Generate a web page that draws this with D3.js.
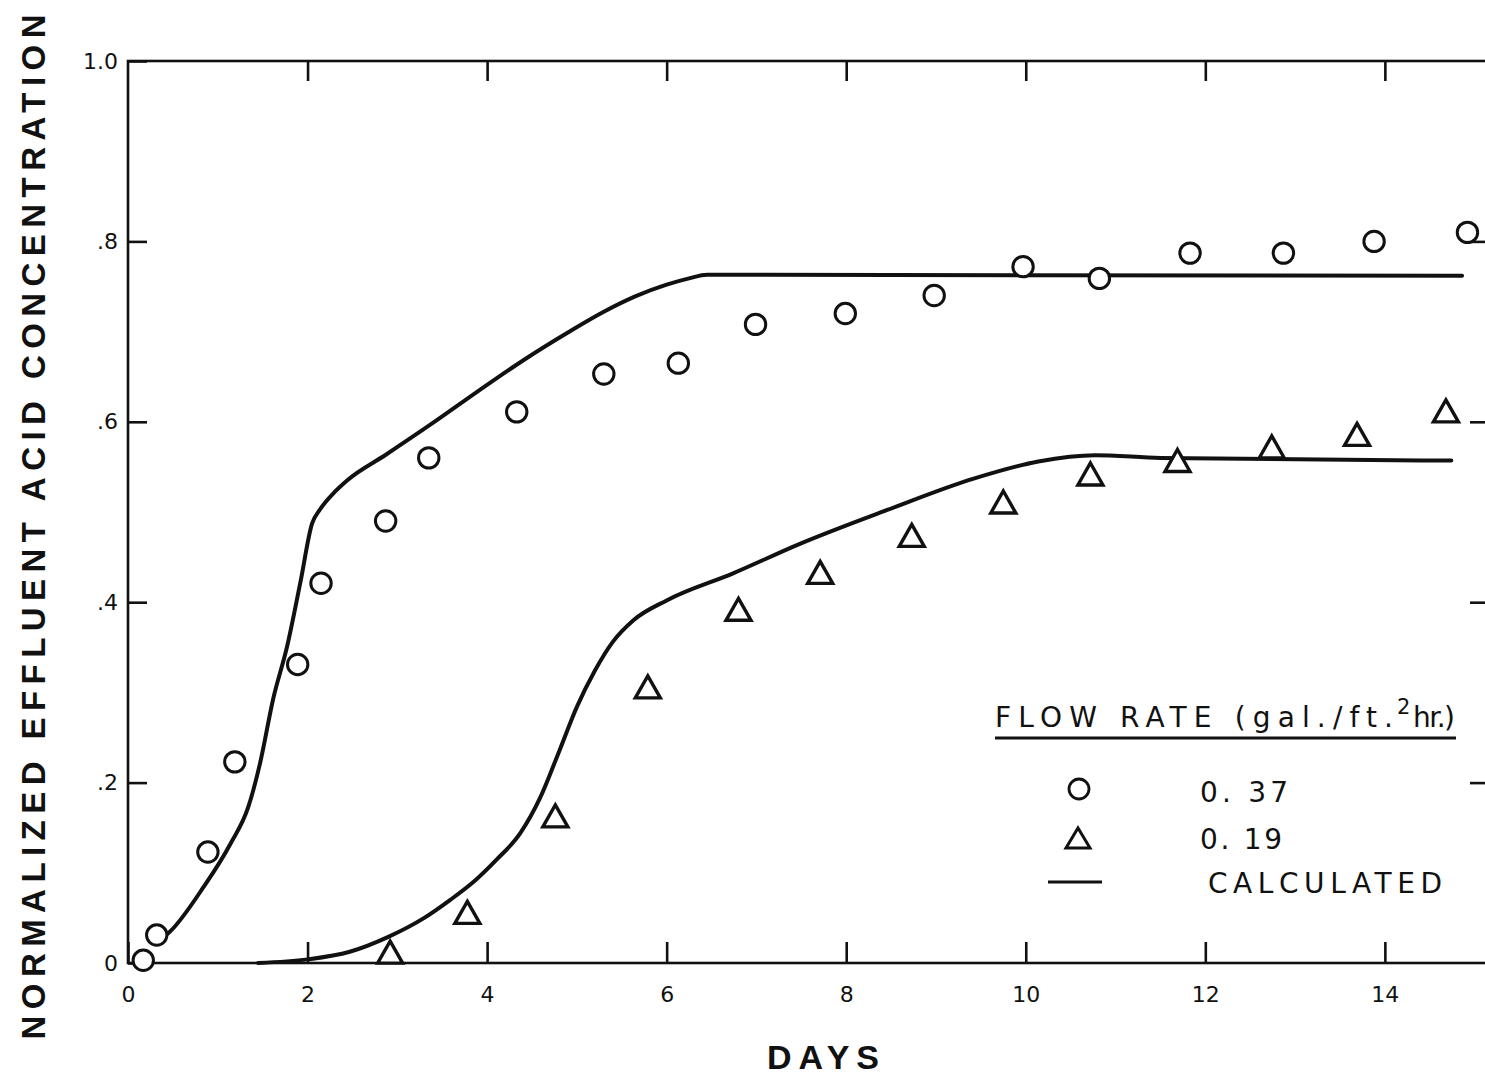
<!DOCTYPE html>
<html>
<head>
<meta charset="utf-8">
<script src="https://cdn.jsdelivr.net/npm/d3@7"></script>
<style>
  body { margin: 0; background: #fff; }
  svg { display: block; }
  text { fill: #111; }
</style>
</head>
<body>
<svg id="chart" width="1485" height="1075"></svg>
<script>
// Axis ticks
const xTickValues = [0, 2, 4, 6, 8, 10, 12, 14];
const xTickLabels = ["0", "2", "4", "6", "8", "10", "12", "14"];
const yTickValues = [0, 0.2, 0.4, 0.6, 0.8, 1.0];
const yTickLabels = ["0", ".2", ".4", ".6", ".8", "1.0"];

// Measured breakthrough, flow rate 0.37 gal/ft2 hr (circles)
const circleDays = [0.17, 0.32, 0.89, 1.19, 1.89, 2.15, 2.87, 3.35, 4.33, 5.30,
                    6.13, 6.99, 7.99, 8.98, 9.97, 10.82, 11.83, 12.87, 13.88, 14.92];
const circleConc = [0.003, 0.031, 0.123, 0.223, 0.331, 0.421, 0.490, 0.560, 0.611, 0.653,
                    0.665, 0.708, 0.720, 0.740, 0.772, 0.759, 0.787, 0.787, 0.800, 0.810];

// Measured breakthrough, flow rate 0.19 gal/ft2 hr (triangles)
const triangleDays = [2.92, 3.78, 4.76, 5.79, 6.80, 7.71, 8.73, 9.75, 10.72, 11.69, 12.74, 13.69, 14.68];
const triangleConc = [0.011, 0.055, 0.162, 0.305, 0.391, 0.432, 0.473, 0.510, 0.541, 0.556, 0.571, 0.585, 0.611];

// Calculated curve, 0.37 gal/ft2 hr
const calcHighDays = [0.35, 0.47, 0.84, 1.14, 1.34, 1.47, 1.62, 1.77, 1.92, 2.05, 2.14, 2.30, 2.44,
                      2.88, 3.40, 3.90, 4.40, 4.90, 5.30, 5.65, 6.00, 6.25, 6.45, 14.86];
const calcHighConc = [0.025, 0.035, 0.084, 0.132, 0.173, 0.221, 0.294, 0.350, 0.422, 0.487, 0.503, 0.522, 0.535,
                      0.564, 0.599, 0.634, 0.668, 0.699, 0.722, 0.739, 0.752, 0.759, 0.763, 0.762];

// Calculated curve, 0.19 gal/ft2 hr
const calcLowDays = [1.45, 2.00, 2.47, 2.90, 3.30, 3.59, 3.85, 4.10, 4.37, 4.59, 4.80, 5.00, 5.20,
                     5.40, 5.63, 6.00, 6.74, 7.49, 8.45, 9.42, 10.14, 10.77, 11.50, 14.74];
const calcLowConc = [0.000, 0.004, 0.0125, 0.029, 0.050, 0.070, 0.090, 0.114, 0.144, 0.183, 0.234, 0.284, 0.324,
                     0.356, 0.380, 0.402, 0.432, 0.465, 0.502, 0.537, 0.556, 0.563, 0.560, 0.557];

const ink = "#111";
const svg = d3.select("#chart");
svg.append("rect").attr("width", 1485).attr("height", 1075).attr("fill", "#fff");

const x = d3.scaleLinear().domain([0, 15.16]).range([128, 1489]);
const y = d3.scaleLinear().domain([0, 1]).range([963, 61]);

// Frame
svg.append("rect")
  .attr("x", x(0)).attr("y", y(1))
  .attr("width", x(15.16) - x(0)).attr("height", y(0) - y(1))
  .attr("fill", "none").attr("stroke", ink).attr("stroke-width", 2.6);

function styleAxis(g) {
  g.select(".domain").remove();
  g.selectAll(".tick line").attr("stroke", ink).attr("stroke-width", 2.6);
  g.selectAll(".tick text").attr("fill", ink)
    .attr("font-family", "'DejaVu Sans', 'Liberation Sans', sans-serif")
    .attr("font-size", 22);
}

// Bottom axis: inward ticks and day labels
svg.append("g").attr("transform", `translate(0,${y(0)})`)
  .call(d3.axisBottom(x).tickValues(xTickValues)
    .tickFormat((d, i) => xTickLabels[i]).tickSize(-21).tickPadding(23))
  .call(styleAxis);

// Top axis: inward ticks only
svg.append("g").attr("transform", `translate(0,${y(1)})`)
  .call(d3.axisTop(x).tickValues(xTickValues.slice(1)).tickFormat("").tickSize(-20))
  .call(styleAxis);

// Left axis: inward ticks and concentration labels
svg.append("g").attr("transform", `translate(${x(0)},0)`)
  .call(d3.axisLeft(y).tickValues(yTickValues)
    .tickFormat((d, i) => yTickLabels[i]).tickSize(-19).tickPadding(10))
  .call(styleAxis);

// Right axis: inward ticks only
svg.append("g").attr("transform", `translate(${x(15.16)},0)`)
  .call(d3.axisRight(y).tickValues(yTickValues.slice(1, 5)).tickFormat("").tickSize(-19))
  .call(styleAxis);

// Calculated curves
const line = d3.line().x(d => x(d[0])).y(d => y(d[1])).curve(d3.curveMonotoneX);
[[calcHighDays, calcHighConc], [calcLowDays, calcLowConc]].forEach(([ds, cs]) => {
  svg.append("path")
    .datum(ds.map((d, i) => [d, cs[i]]))
    .attr("d", line)
    .attr("fill", "none").attr("stroke", ink)
    .attr("stroke-width", 4).attr("stroke-linejoin", "round").attr("stroke-linecap", "round");
});

// Circle markers
svg.append("g").selectAll("circle")
  .data(circleDays.map((d, i) => [d, circleConc[i]]))
  .join("circle")
  .attr("cx", d => x(d[0])).attr("cy", d => y(d[1])).attr("r", 10.2)
  .attr("fill", "#fff").attr("stroke", ink).attr("stroke-width", 3);

// Triangle markers
const triPath = "M0,-12L12.5,10L-12.5,10Z";
svg.append("g").selectAll("path")
  .data(triangleDays.map((d, i) => [d, triangleConc[i]]))
  .join("path")
  .attr("d", triPath)
  .attr("transform", d => `translate(${x(d[0])},${y(d[1])})`)
  .attr("fill", "#fff").attr("stroke", ink).attr("stroke-width", 3.4).attr("stroke-linejoin", "miter");

// Axis titles
svg.append("text")
  .attr("transform", "translate(45,527) rotate(-90)")
  .attr("text-anchor", "middle")
  .attr("textLength", 1025).attr("lengthAdjust", "spacing")
  .style("font-family", "'Liberation Sans', Arial, sans-serif")
  .style("font-weight", "bold").style("font-size", "33px")
  .text("NORMALIZED EFFLUENT ACID CONCENTRATION");

svg.append("text")
  .attr("x", 767).attr("y", 1069)
  .attr("textLength", 112).attr("lengthAdjust", "spacing")
  .style("font-family", "'Liberation Sans', Arial, sans-serif")
  .style("font-weight", "bold").style("font-size", "34px")
  .text("DAYS");

// Legend
const legendFont = "'DejaVu Sans', 'Liberation Sans', sans-serif";
const legend = svg.append("g");
function legendText(txt, xPos, yPos, len, size) {
  const t = legend.append("text")
    .attr("x", xPos).attr("y", yPos)
    .style("font-family", legendFont).style("font-size", size + "px")
    .text(txt);
  if (len) t.attr("textLength", len).attr("lengthAdjust", "spacing");
}
legendText("FLOW  RATE  (gal./ft.", 995, 727, 398, 28);
legendText("2", 1397, 714, 13, 21);
legendText("hr.)", 1413, 727, 42, 28);
legend.append("line")
  .attr("x1", 995).attr("x2", 1456).attr("y1", 738).attr("y2", 738)
  .attr("stroke", ink).attr("stroke-width", 3);

legend.append("circle").attr("cx", 1079).attr("cy", 789).attr("r", 10)
  .attr("fill", "#fff").attr("stroke", ink).attr("stroke-width", 2.8);
legendText("0. 37", 1200, 802, 88, 28);

legend.append("path").attr("d", "M0,-11L12,9L-12,9Z")
  .attr("transform", "translate(1078,839)")
  .attr("fill", "#fff").attr("stroke", ink).attr("stroke-width", 3);
legendText("0. 19", 1200, 849, 82, 28);

legend.append("line")
  .attr("x1", 1048).attr("x2", 1102).attr("y1", 882).attr("y2", 882)
  .attr("stroke", ink).attr("stroke-width", 3);
legendText("CALCULATED", 1208, 893, 234, 28);
</script>
</body>
</html>
